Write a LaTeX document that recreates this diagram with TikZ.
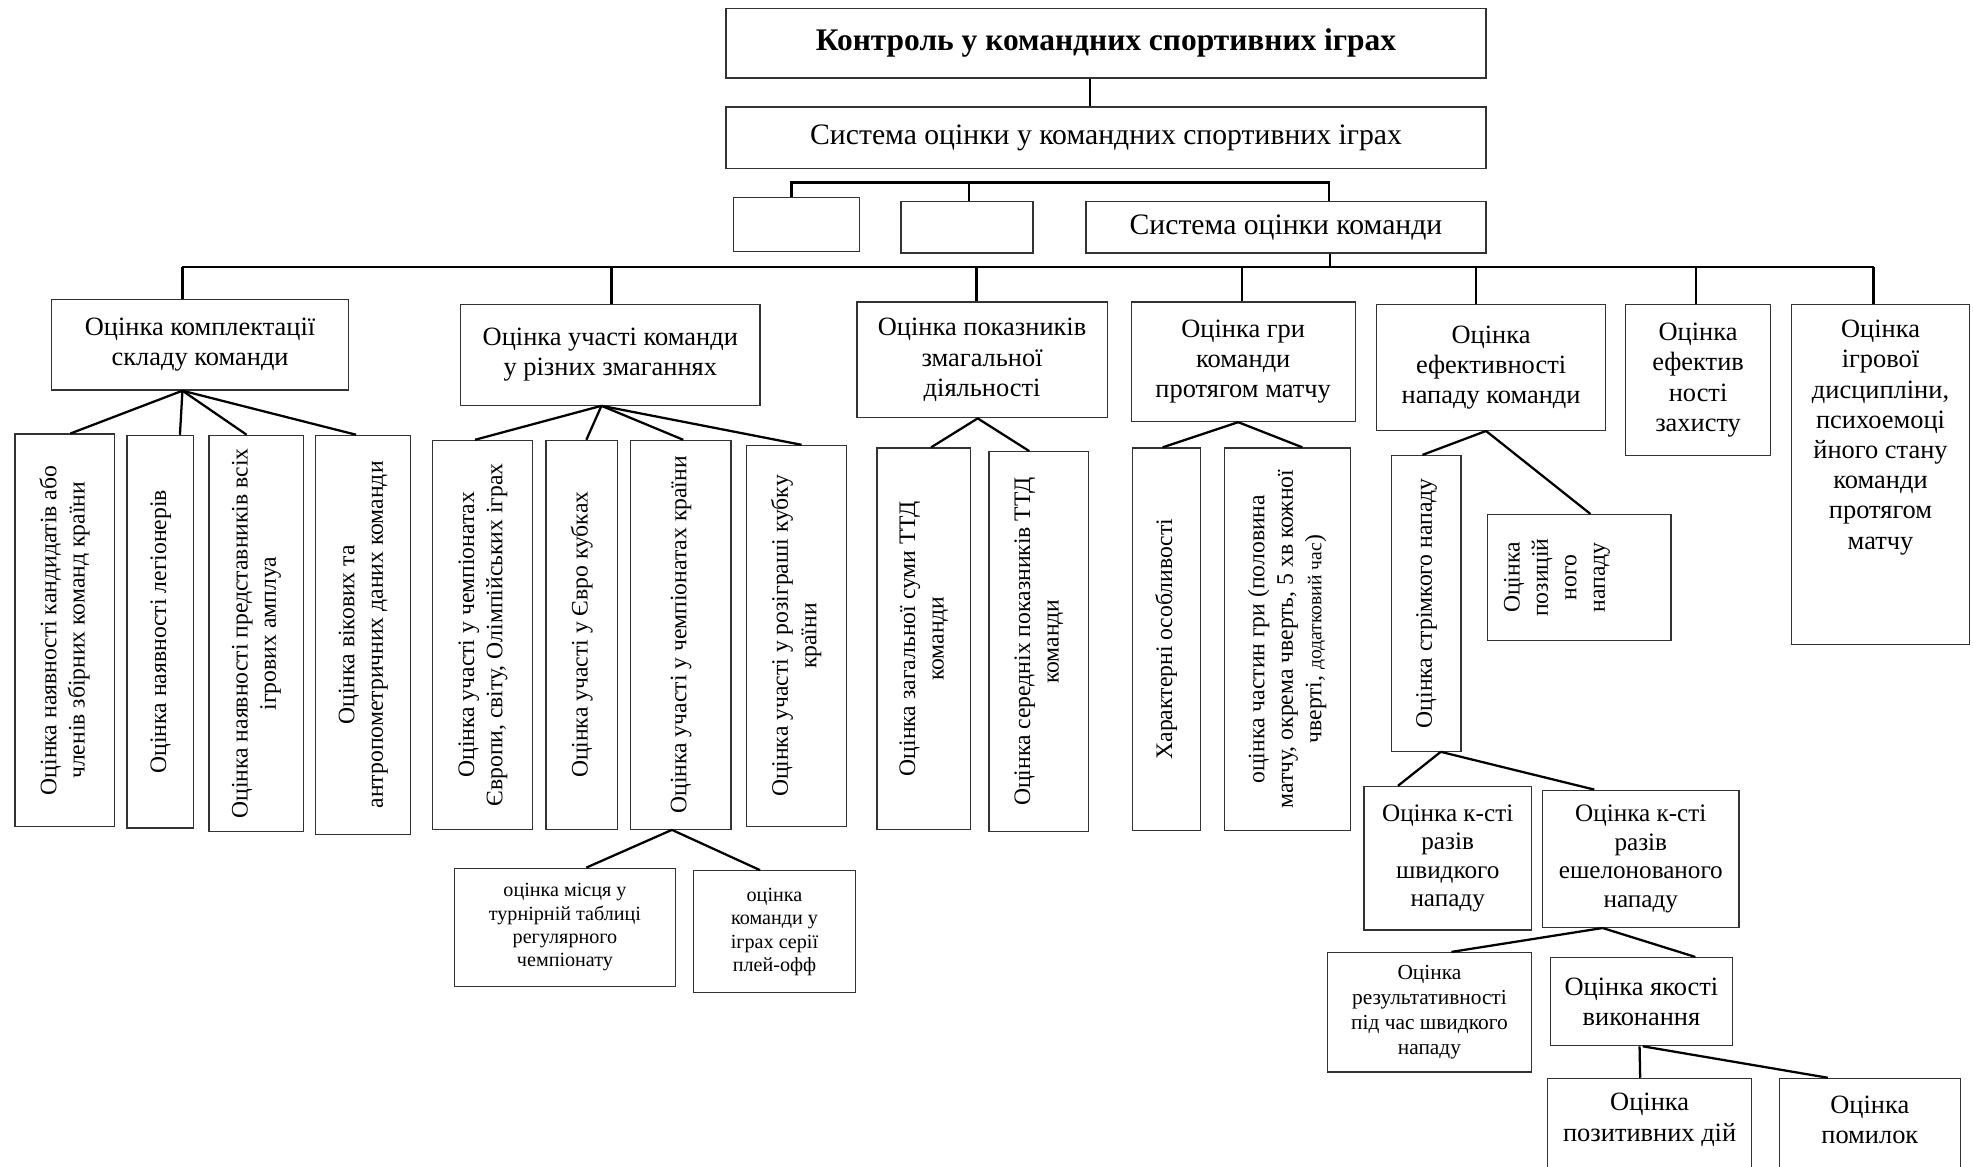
\documentclass[tikz,border=0pt]{standalone}
\usepackage{fontspec}
\setmainfont{Liberation Serif}
\usepackage{graphicx}
\usetikzlibrary{calc}

\tikzset{
  box/.style={draw=black!80, line width=0.5pt, inner sep=1pt, align=center,
    font=\fontsize{10.5}{12}\selectfont},
  boxtext/.style={inner sep=0pt, align=center, font=\fontsize{10.5}{12}\selectfont},
  link/.style={draw=black, line width=0.9pt},
  vert/.style={font=\fontsize{9.4}{11.3}\selectfont},
  mid/.style={font=\fontsize{10}{11.3}\selectfont},
  small/.style={font=\fontsize{8}{9.3}\selectfont},
  head/.style={font=\fontsize{11.8}{14}\selectfont},
}

% rotated multi-line label, read from bottom to top
\newcommand{\vtext}[1]{\rotatebox{90}{\begin{tabular}{@{}c@{}}#1\end{tabular}}}

% rectangle node given by its corners: [options]{name}{x1}{y1}{x2}{y2}{text}
\newcommand{\bx}[7][]{%
  \pgfmathsetmacro\bxcx{(#3+#5)/2}%
  \pgfmathsetmacro\bxcy{(#4+#6)/2}%
  \pgfmathsetmacro\bxw{(#5-#3)*0.5}%
  \pgfmathsetmacro\bxh{(#6-#4)*0.5}%
  \node[box,minimum width=\bxw pt,minimum height=\bxh pt,#1] (#2) at (\bxcx,\bxcy) {#7};%
}

\begin{document}
\begin{tikzpicture}[x=0.5pt,y=-0.5pt]
\useasboundingbox (0,0) rectangle (1568,927);
\clip (0,0) rectangle (1568,927);
\fill[white] (0,0) rectangle (1568,927);

% --- top of the hierarchy ---
\bx[font=\bfseries\fontsize{12.5}{14}\selectfont]{title}{577}{7}{1181}{62}{Контроль у командних спортивних іграх}
\bx[head]{sysall}{577}{85}{1181}{134}{Система оцінки у командних спортивних іграх}
\bx{blankA}{583}{157}{683}{200}{}
\bx{blankB}{716}{160}{821}{201}{}
\bx[head]{systeam}{863}{160}{1181}{201}{Система оцінки команди}

\draw[link] ([xshift=-6.5pt]title.south) -- ([xshift=-6.5pt]sysall.north);

\coordinate (brA) at (629,145);
\coordinate (brB) at (770,145);
\coordinate (brC) at (1056,145);
\draw[link] (brA |- blankA.north) -- (brA) -- (brC) -- (brC |- systeam.north);
\draw[link] (brB) -- (brB |- blankB.north);

% --- team evaluation groups ---
\bx{c1}{41}{238}{277}{310}{Оцінка комплектації\\складу команди}
\bx{c2}{366}{242}{604}{322}{Оцінка участі команди\\у різних змаганнях}
\bx{c3}{681}{240}{880}{332}{Оцінка показників\\змагальної\\діяльності}
\bx{c4}{899}{240}{1077}{335}{Оцінка гри\\команди\\протягом матчу}
\bx{c5}{1094}{242}{1276}{342}{Оцінка\\ефективності\\нападу команди}
\bx{c6}{1292}{242}{1407}{362}{Оцінка\\ефектив\\ності\\захисту}
\bx{c7}{1424}{242}{1565}{512}{}
\node[boxtext, anchor=north] (c7t) at (1494.5,254)
  {Оцінка\\ігрової\\дисципліни,\\психоемоці\\йного стану\\команди\\протягом\\матчу};

\coordinate (busS) at (1057,212);
\draw[link] (systeam.south -| busS) -- (busS);
\foreach \nm/\xx in {c1/145, c2/486, c3/776, c4/987, c5/1173, c6/1348, c7/1489}{
  \coordinate (drop\nm) at (\xx,212);
  \draw[link] (drop\nm) -- (drop\nm |- \nm.north);
}
\draw[link] (dropc1) -- (dropc7);

% --- squad composition ---
\bx[vert]{a}{12}{345}{91}{657}{\vtext{Оцінка наявності кандидатів або\\членів збірних команд країни}}
\bx[vert]{b}{101}{346}{154}{658}{\vtext{Оцінка наявності легіонерів}}
\bx[vert]{cc}{166}{346}{241}{661}{\vtext{Оцінка наявності представників всіх\\ігрових амплуа}}
\bx[vert]{d}{251}{346}{326}{663}{\vtext{Оцінка вікових та\\антропометричних даних команди}}
\draw[link] ([xshift=-7pt]c1.south) -- ([xshift=2.25pt]a.north);
\draw[link] ([xshift=-7pt]c1.south) -- ([xshift=7.75pt]b.north);
\draw[link] ([xshift=-7pt]c1.south) -- ([xshift=-3.75pt]cc.north);
\draw[link] ([xshift=-7pt]c1.south) -- ([xshift=-2.75pt]d.north);

% --- competitions ---
\bx[vert]{e}{344}{350}{423}{659}{\vtext{Оцінка участі у чемпіонатах\\Європи, світу, Олімпійських іграх}}
\bx[vert]{f}{434}{350}{491}{659}{\vtext{Оцінка участі у Євро кубках}}
\bx[vert]{g}{501}{350}{581}{659}{\vtext{Оцінка участі у чемпіонатах країни}}
\bx[vert]{h}{593}{354}{673}{657}{\vtext{Оцінка участі у розіграші кубку\\країни}}
\draw[link] ([xshift=-3.5pt]c2.south) -- ([xshift=-3pt]e.north);
\draw[link] ([xshift=-3.5pt]c2.south) -- ([xshift=1.75pt]f.north);
\draw[link] ([xshift=-3.5pt]c2.south) -- ([xshift=1pt]g.north);
\draw[link] ([xshift=-3.5pt]c2.south) -- ([xshift=2pt]h.north);

\bx[small]{i}{361}{690}{537}{784}{оцінка місця у\\турнірній таблиці\\регулярного\\чемпіонату}
\bx[small]{j}{551}{692}{680}{789}{оцінка\\команди у\\іграх серії\\плей-офф}
\draw[link] ([xshift=-3.5pt]g.south) -- ([xshift=8.5pt]i.north);
\draw[link] ([xshift=-3.5pt]g.south) -- ([xshift=-5.75pt]j.north);

% --- competitive activity ---
\bx[vert]{k}{697}{356}{771}{659}{\vtext{Оцінка загальної суми ТТД\\команди}}
\bx[vert]{l}{786}{359}{865}{661}{\vtext{Оцінка середніх показників ТТД\\команди}}
\draw[link] ([xshift=-1.75pt]c3.south) -- ([xshift=3pt]k.north);
\draw[link] ([xshift=-1.75pt]c3.south) -- ([xshift=-3.75pt]l.north);

% --- play during the match ---
\bx[vert]{m}{900}{356}{954}{660}{\vtext{Характерні особливості}}
\bx[vert]{n}{973}{356}{1073}{660}{\vtext{оцінка частин гри (половина\\матчу, окрема чверть, 5 хв кожної\\чверті, {\fontsize{7.8}{9}\selectfont додатковий час})}}
\draw[link] ([xshift=-2pt]c4.south) -- ([xshift=-1.5pt]m.north);
\draw[link] ([xshift=-2pt]c4.south) -- ([xshift=6pt]n.north);

% --- attack efficiency ---
\bx[vert]{o}{1106}{362}{1161}{597}{\vtext{Оцінка стрімкого нападу}}
\bx[vert]{p}{1182}{409}{1328}{509}{\vtext{Оцінка\\позицій\\ного\\нападу}\hspace*{18pt}}
\draw[link] ([xshift=-2pt]c5.south) -- ([xshift=-1.5pt]o.north);
\draw[link] ([xshift=-2pt]c5.south) -- ([xshift=4.5pt]p.north);

\bx[mid]{q}{1084}{625}{1217}{739}{Оцінка к-сті\\разів\\швидкого\\нападу}
\bx[mid]{r}{1226}{628}{1382}{737}{Оцінка к-сті\\разів\\ешелонованого\\нападу}
\draw[link] ([xshift=5.75pt]o.south) -- ([xshift=-19.75pt]q.north);
\draw[link] ([xshift=5.75pt]o.south) -- ([xshift=-18.5pt]r.north);

\bx[font=\fontsize{8.5}{10}\selectfont]{s}{1055}{757}{1217}{852}{Оцінка\\результативності\\під час швидкого\\нападу}
\bx{t}{1232}{761}{1377}{831}{Оцінка якості\\виконання}
\draw[link] ([xshift=-15.2pt]r.south) -- ([xshift=8.75pt]s.north);
\draw[link] ([xshift=-15.2pt]r.south) -- ([xshift=21.4pt]t.north);

\bx{u}{1230}{857}{1392}{945}{}
\bx{v}{1414}{857}{1558}{945}{}
\node[boxtext] (ut) at (1311,890) {Оцінка\\позитивних дій};
\node[boxtext] (vt) at (1486,890) {Оцінка\\помилок};
\draw[link] ([xshift=-0.75pt]t.south) -- ([xshift=-3.75pt]u.north);
\draw[link] ([xshift=0.5pt]t.south) -- ([xshift=-16.7pt]v.north);
\end{tikzpicture}
\end{document}
